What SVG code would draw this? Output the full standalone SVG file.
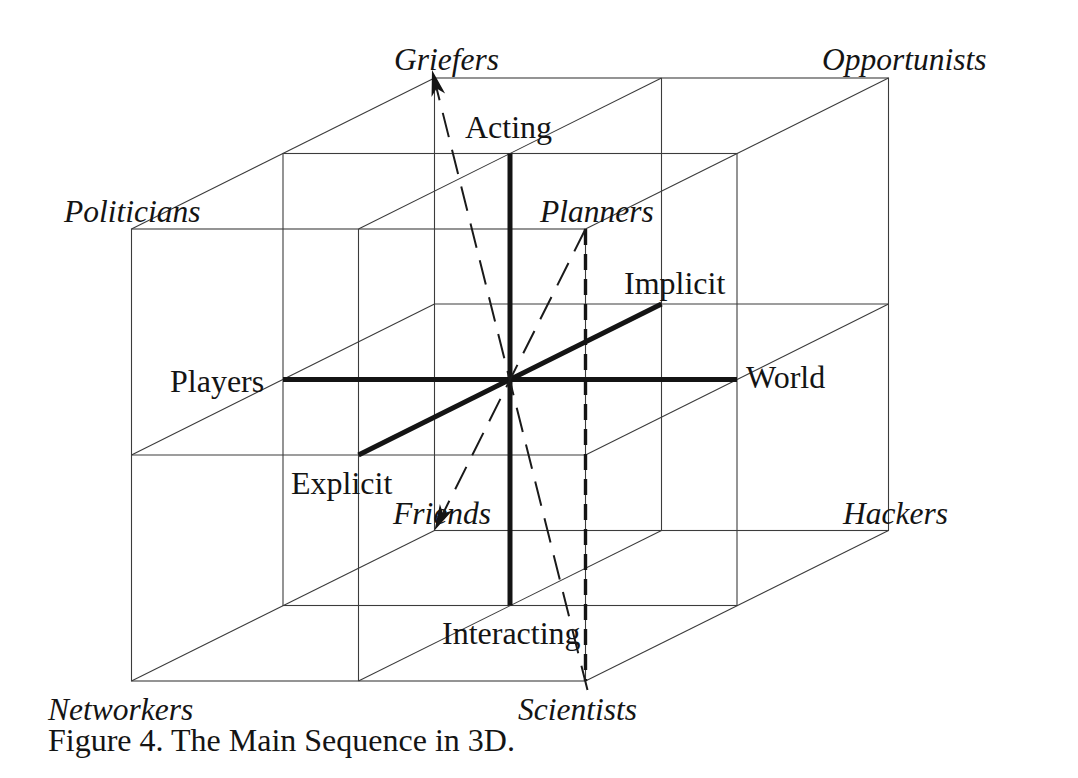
<svg xmlns="http://www.w3.org/2000/svg" width="1078" height="778" viewBox="0 0 1078 778">
<style>
  .bg { fill: #ffffff; }
  .thin { stroke: #3c3c3c; stroke-width: 1.1; fill: none; }
  .axis { stroke: #141414; stroke-width: 5; fill: none; stroke-linecap: butt; }
  .dash { stroke: #1a1a1a; stroke-width: 2; fill: none; stroke-dasharray: 25 13; }
  .dashthick { stroke: #141414; stroke-width: 3.4; fill: none; stroke-dasharray: 16 9; }
  text { font-family: "Liberation Serif", "Times New Roman", serif; font-size: 32px; fill: #141414; }
  .it { font-style: italic; font-size: 31.5px; }
</style>
<defs>
  <marker id="arrow" viewBox="-32 -10 34 20" markerWidth="34" markerHeight="20" refX="0" refY="0" markerUnits="userSpaceOnUse" orient="auto">
    <path d="M0,0 L-26,-7 L-19,0 L-26,7 Z" fill="#141414"/>
  </marker>
</defs>
<rect class="bg" x="0" y="0" width="1078" height="778"/>

<g id="grid">
  <!-- front face -->
  <rect class="thin" x="131.5" y="229" width="454" height="452"/>
  <line class="thin" x1="358.5" y1="229" x2="358.5" y2="681"/>
  <line class="thin" x1="131.5" y1="455" x2="585.5" y2="455"/>
  <!-- middle plane -->
  <rect class="thin" x="283" y="153.5" width="454" height="452"/>
  <!-- back face -->
  <rect class="thin" x="434.5" y="78" width="454" height="452.5"/>
  <line class="thin" x1="661.5" y1="78" x2="661.5" y2="530.5"/>
  <line class="thin" x1="434.5" y1="304" x2="888.5" y2="304"/>
  <!-- depth lines -->
  <line class="thin" x1="131.5" y1="229" x2="434.5" y2="78"/>
  <line class="thin" x1="358.5" y1="229" x2="661.5" y2="78"/>
  <line class="thin" x1="585.5" y1="229" x2="888.5" y2="78"/>
  <line class="thin" x1="131.5" y1="455" x2="434.5" y2="304"/>
  <line class="thin" x1="585.5" y1="455" x2="888.5" y2="304"/>
  <line class="thin" x1="131.5" y1="681" x2="434.5" y2="530.5"/>
  <line class="thin" x1="358.5" y1="681" x2="661.5" y2="530.5"/>
  <line class="thin" x1="585.5" y1="681" x2="888.5" y2="530.5"/>
</g>

<g id="axes">
  <line class="axis" x1="510" y1="153.5" x2="510" y2="605.5"/>
  <line class="axis" x1="283" y1="379.5" x2="737" y2="379.5"/>
  <line class="axis" x1="358.5" y1="455" x2="661.5" y2="304"/>
</g>

<g id="labels">
  <g id="griefers"><text class="it" x="394" y="70">Griefers</text></g>
  <g id="opportunists"><text class="it" x="822" y="70">Opportunists</text></g>
  <g id="acting"><text x="465" y="138">Acting</text></g>
  <g id="politicians"><text class="it" x="64" y="222">Politicians</text></g>
  <g id="planners"><text class="it" x="540" y="222">Planners</text></g>
  <g id="implicit"><text x="624" y="294">Implicit</text></g>
  <g id="players"><text x="170" y="391.5">Players</text></g>
  <g id="world"><text x="746" y="387.5">World</text></g>
  <g id="explicit"><text x="291" y="493.5">Explicit</text></g>
  <g id="friends"><text class="it" x="393" y="523.5">Friends</text></g>
  <g id="hackers"><text class="it" x="843" y="523.5">Hackers</text></g>
  <g id="interacting"><text x="442" y="644">Interacting</text></g>
  <g id="networkers"><text class="it" x="48" y="720">Networkers</text></g>
  <g id="scientists"><text class="it" x="518" y="720">Scientists</text></g>
  <g id="caption"><text x="48" y="751">Figure 4. The Main Sequence in 3D.</text></g>
</g>

<g id="connectors">
  <line class="dashthick" x1="585.5" y1="229" x2="585.5" y2="681"/>
  <line class="dash" x1="587.5" y1="690" x2="432" y2="70" marker-end="url(#arrow)"/>
  <line class="dash" x1="585.5" y1="229" x2="434.5" y2="530.5" marker-end="url(#arrow)"/>
</g>
</svg>
